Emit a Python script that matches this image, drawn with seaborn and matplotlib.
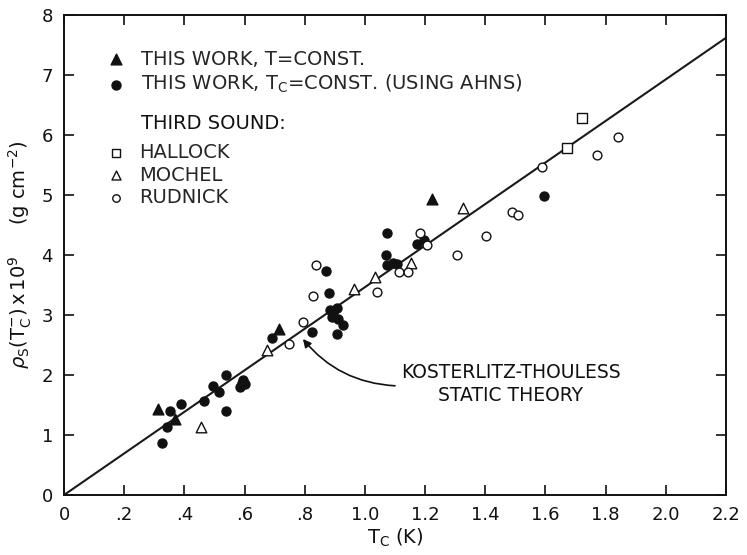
import matplotlib
matplotlib.use("Agg")
import matplotlib.pyplot as plt
import seaborn as sns
import pandas as pd

# this work, T = const (filled triangles)
tw_t_T = [0.313, 0.369, 0.714, 1.224]
tw_t_rho = [1.43, 1.26, 2.76, 4.93]

# this work, Tc = const (filled circles)
tw_c_T = [0.326, 0.343, 0.352, 0.388, 0.465, 0.494, 0.516, 0.537, 0.537, 0.585,
          0.590, 0.596, 0.600, 0.692, 0.825, 0.870, 0.880, 0.884, 0.906, 0.889,
          0.911, 0.926, 0.906, 0.895, 1.074, 1.070, 1.072, 1.094, 1.105, 1.172,
          1.197, 1.596]
tw_c_rho = [0.86, 1.13, 1.40, 1.52, 1.57, 1.82, 1.72, 2.00, 1.40, 1.80,
            1.87, 1.92, 1.85, 2.62, 2.71, 3.74, 3.36, 3.08, 3.11, 2.97,
            2.93, 2.83, 2.69, 3.03, 4.37, 4.00, 3.83, 3.87, 3.85, 4.18,
            4.25, 4.99]

# third sound
hallock_T = [1.67, 1.72]
hallock_rho = [5.78, 6.29]
mochel_T = [0.455, 0.676, 0.963, 1.035, 1.153, 1.327]
mochel_rho = [1.13, 2.42, 3.43, 3.63, 3.87, 4.79]
rudnick_T = [0.748, 0.795, 0.828, 0.839, 1.039, 1.114, 1.144, 1.183, 1.207, 1.305,
             1.404, 1.489, 1.509, 1.587, 1.770, 1.840]
rudnick_rho = [2.52, 2.89, 3.31, 3.84, 3.39, 3.72, 3.72, 4.36, 4.16, 4.00,
               4.31, 4.72, 4.66, 5.47, 5.66, 5.97]

# Kosterlitz-Thouless static theory line
kt_T = [0.0, 2.2]
kt_rho = [0.0, 7.62]

x_ticks = [0, 0.2, 0.4, 0.6, 0.8, 1.0, 1.2, 1.4, 1.6, 1.8, 2.0, 2.2]
x_ticklabels = ['0', '.2', '.4', '.6', '.8', '1.0', '1.2', '1.4', '1.6', '1.8', '2.0', '2.2']
y_ticks = [0, 1, 2, 3, 4, 5, 6, 7, 8]

sns.set_theme(style="ticks")
plt.rcParams['font.family'] = ['DejaVu Sans']
plt.rcParams['mathtext.fontset'] = 'dejavusans'

fig = plt.figure(figsize=(7.47, 5.55), dpi=100)
ax = fig.add_axes([64 / 747, 1 - 495 / 555, 662 / 747, 480 / 555])

sns.lineplot(x=kt_T, y=kt_rho, ax=ax, color='#1a1a1a', linewidth=1.5, zorder=2)

ink = '#111111'
groups = [
    (tw_t_T, tw_t_rho, '^', ink, 60, 'THIS WORK, T=CONST.'),
    (tw_c_T, tw_c_rho, 'o', ink, 42, r'THIS WORK, T$_\mathrm{C}$=CONST. (USING AHNS)'),
    (hallock_T, hallock_rho, 's', 'white', 42, 'HALLOCK'),
    (mochel_T, mochel_rho, '^', 'white', 58, 'MOCHEL'),
    (rudnick_T, rudnick_rho, 'o', 'white', 40, 'RUDNICK'),
]
for xs, ys, mk, fc, size, lab in groups:
    df = pd.DataFrame({'T': xs, 'rho': ys})
    sns.scatterplot(data=df, x='T', y='rho', ax=ax, marker=mk, s=size,
                    color=fc, edgecolor=ink, linewidth=1.0, label=lab, zorder=3)

handles, labels = ax.get_legend_handles_labels()
leg1 = ax.legend(handles[:2], labels[:2], loc='upper left',
                 bbox_to_anchor=(0.064, 0.928), frameon=False, fontsize=14,
                 handlelength=1.0, handletextpad=0.8, labelspacing=0.22,
                 borderpad=0, borderaxespad=0, markerscale=1.0)
ax.add_artist(leg1)
ax.legend(handles[2:], labels[2:], loc='upper left',
          bbox_to_anchor=(0.064, 0.734), frameon=False, fontsize=14,
          handlelength=1.0, handletextpad=0.7, labelspacing=0.2,
          borderpad=0, borderaxespad=0, markerscale=0.85)
ax.text(0.117, 0.773, 'THIRD SOUND:', transform=ax.transAxes, fontsize=14,
        va='center', ha='left', color=ink)

# arrow from the label towards the theory line
ax.annotate('', xy=(0.794, 2.6), xytext=(1.10, 1.82),
            arrowprops=dict(arrowstyle='-|>', color=ink, lw=1.2,
                            connectionstyle='arc3,rad=-0.22',
                            shrinkA=0, shrinkB=0))
ax.text(1.485, 1.85, 'KOSTERLITZ-THOULESS\nSTATIC THEORY', fontsize=13.5,
        ha='center', va='center', color=ink, linespacing=1.25)

ax.set_xlim(0, 2.2)
ax.set_ylim(0, 8)
ax.set_xticks(x_ticks)
ax.set_xticklabels(x_ticklabels)
ax.set_yticks(y_ticks)
ax.tick_params(direction='in', top=True, right=True, length=7, width=1.2,
               labelsize=13, pad=8, colors=ink)
for sp in ax.spines.values():
    sp.set_visible(True)
    sp.set_linewidth(1.4)
    sp.set_color(ink)

ax.set_xlabel(r'T$_\mathrm{C}$ (K)', fontsize=14, labelpad=2, color=ink)
ax.set_ylabel(r'$\rho_\mathrm{S}(\mathrm{T}_\mathrm{C}^{-})\,\mathrm{x}\,10^9$     (g cm$^{-2}$)',
              fontsize=14, labelpad=5, color=ink)

fig.savefig('out.png', dpi=100)
